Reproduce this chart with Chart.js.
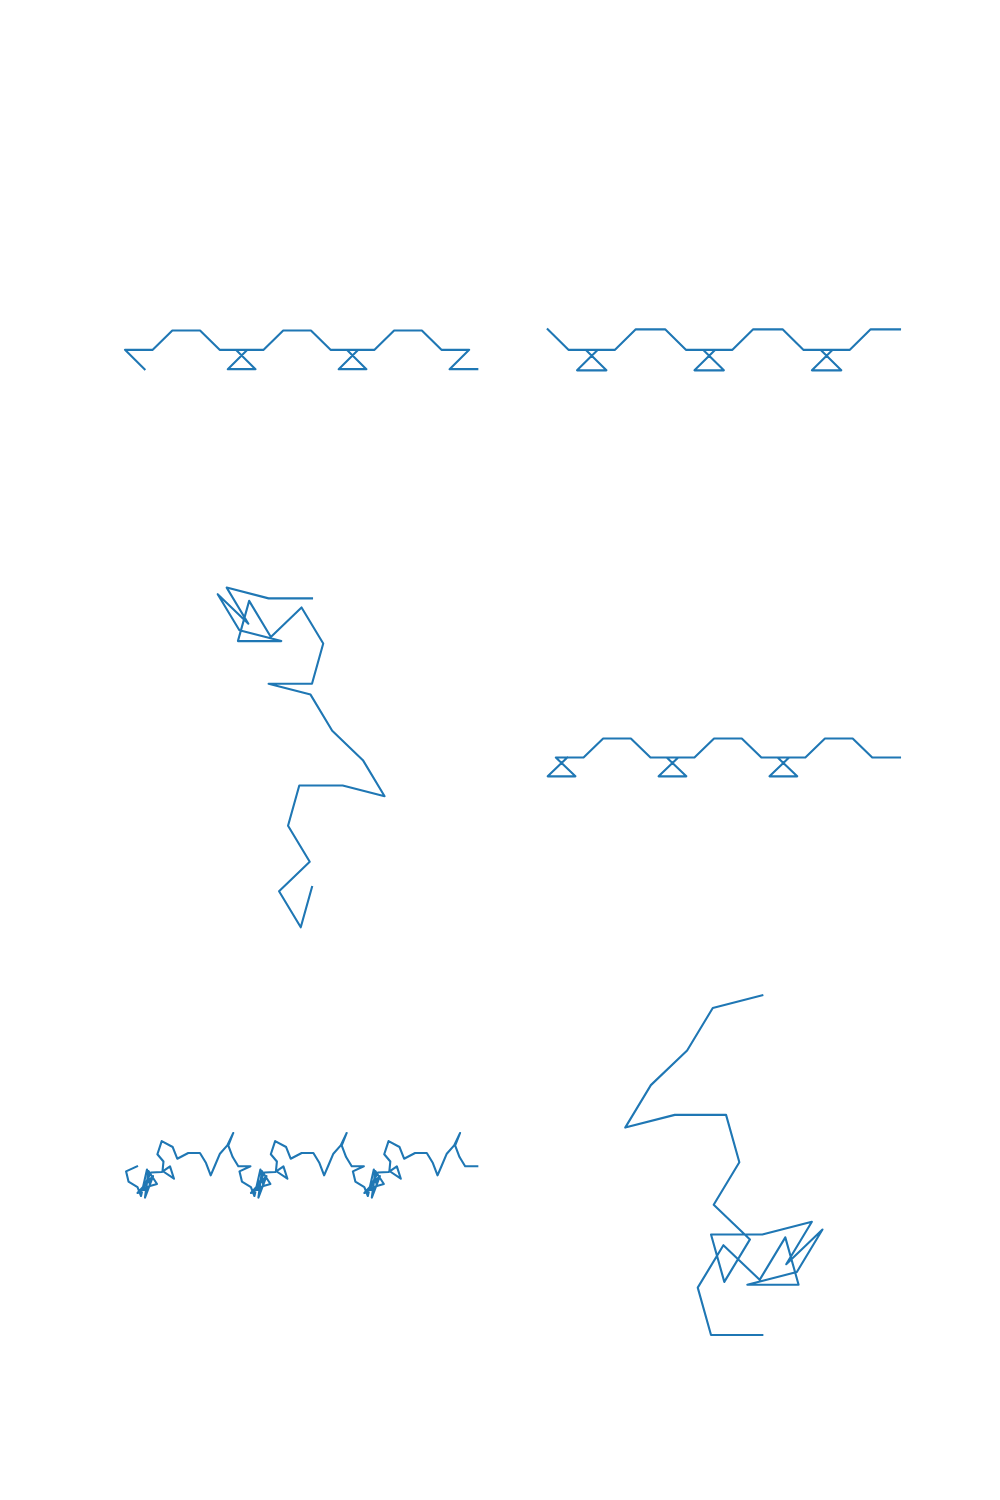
<!DOCTYPE html>
<html><head><meta charset="utf-8">
<script src="https://cdn.jsdelivr.net/npm/chart.js@4"></script>
<style>
html,body{margin:0;padding:0;background:#fff}
body{width:1000px;height:1500px;position:relative;overflow:hidden}
canvas{position:absolute}
</style>
</head><body>
<canvas id="c1"></canvas><canvas id="c2"></canvas>
<canvas id="c3"></canvas><canvas id="c4"></canvas>
<canvas id="c5"></canvas><canvas id="c6"></canvas>
<script>
// Panel 1 (top left)
const p1x = [0, -0.707, 0.293, 1, 2, 2.707, 3.707, 3, 4, 3.293, 4.293, 5, 6, 6.707, 7.707, 7, 8, 7.293, 8.293, 9, 10, 10.707, 11.707, 11, 12];
const p1y = [0, 0.707, 0.707, 1.414, 1.414, 0.707, 0.707, 0, 0, 0.707, 0.707, 1.414, 1.414, 0.707, 0.707, 0, 0, 0.707, 0.707, 1.414, 1.414, 0.707, 0.707, 0, 0];
// Panel 2 (top right)
const p2x = [0, 0.707, 1.707, 1, 2, 1.293, 2.293, 3, 4, 4.707, 5.707, 5, 6, 5.293, 6.293, 7, 8, 8.707, 9.707, 9, 10, 9.293, 10.293, 11, 12];
const p2y = [0, -0.707, -0.707, -1.414, -1.414, -0.707, -0.707, 0, 0, -0.707, -0.707, -1.414, -1.414, -0.707, -0.707, 0, 0, -0.707, -0.707, -1.414, -1.414, -0.707, -0.707, 0, 0];
// Panel 3 (middle left)
const p3x = [0, -1, -1.966, -1.466, -2.173, -1.673, -0.707, -1.707, -1.448, -0.948, -0.241, 0.259, 0, -1, -0.034, 0.466, 1.173, 1.673, 0.707, -0.293, -0.552, -0.052, -0.759, -0.259, 0];
const p3y = [0, 0, 0.259, -0.607, 0.1, -0.766, -1.025, -1.025, -0.059, -0.925, -0.218, -1.084, -2.05, -2.05, -2.309, -3.175, -3.882, -4.748, -4.489, -4.489, -5.455, -6.321, -7.028, -7.894, -6.928];
// Panel 4 (middle right)
const p4x = [0, -0.707, 0.293, -0.414, 0.586, 1.293, 2.293, 3, 4, 3.293, 4.293, 3.586, 4.586, 5.293, 6.293, 7, 8, 7.293, 8.293, 7.586, 8.586, 9.293, 10.293, 11, 12];
const p4y = [0, -0.707, -0.707, 0, 0, 0.707, 0.707, 0, 0, -0.707, -0.707, 0, 0, 0.707, 0.707, 0, 0, -0.707, -0.707, 0, 0, 0.707, 0.707, 0, 0];
// Panel 5 (bottom left)
const p5x = [
  0, -0.94, -0.73, 0.04, 0.34, 0.85, 1.11, 0.04, 1.37, 0.68, 0.98, 1.71, 0.51, 1.20, 2.11, 2.82, 3.16, 2.18, 2.26, 1.74, 2.11, 3.05, 3.44, 4.38, 5.38, 5.90, 6.30, 6.67, 7.09, 7.72, 8.23, 7.80, 8.18, 8.66,
  9.70, 8.76, 8.97, 9.74, 10.04, 10.55, 10.81, 9.74, 11.07, 10.38, 10.68, 11.41, 10.21, 10.90, 11.81, 12.52, 12.86, 11.88, 11.96, 11.44, 11.81, 12.75, 13.14, 14.08, 15.08, 15.60, 16.00, 16.37, 16.79, 17.42, 17.93, 17.50, 17.88, 18.36,
  19.40, 18.46, 18.67, 19.44, 19.74, 20.25, 20.51, 19.44, 20.77, 20.08, 20.38, 21.11, 19.91, 20.60, 21.51, 22.22, 22.56, 21.58, 21.66, 21.14, 21.51, 22.45, 22.84, 23.78, 24.78, 25.30, 25.70, 26.07, 26.49, 27.12, 27.63, 27.20, 27.58, 28.06,
  29.10];
const p5y = [
  0, -0.43, -1.30, -1.77, -2.54, -0.27, -1.68, -2.28, -0.83, -2.67, -0.40, -1.51, -1.85, -0.53, -0.49, 0, -1.06, -0.40, 0.41, 1.03, 2.16, 1.65, 0.65, 1.14, 1.14, 0.28, -0.77, 0.09, 1.08, 1.79, 2.85, 1.78, 0.79, 0,
  0, -0.43, -1.30, -1.77, -2.54, -0.27, -1.68, -2.28, -0.83, -2.67, -0.40, -1.51, -1.85, -0.53, -0.49, 0, -1.06, -0.40, 0.41, 1.03, 2.16, 1.65, 0.65, 1.14, 1.14, 0.28, -0.77, 0.09, 1.08, 1.79, 2.85, 1.78, 0.79, 0,
  0, -0.43, -1.30, -1.77, -2.54, -0.27, -1.68, -2.28, -0.83, -2.67, -0.40, -1.51, -1.85, -0.53, -0.49, 0, -1.06, -0.40, 0.41, 1.03, 2.16, 1.65, 0.65, 1.14, 1.14, 0.28, -0.77, 0.09, 1.08, 1.79, 2.85, 1.78, 0.79, 0,
  0];
// Panel 6 (bottom right)
const p6x = [0, -0.966, -1.466, -2.173, -2.673, -1.707, -0.707, -0.448, -0.948, -0.241, -0.741, -1, 0, 0.966, 0.466, 1.173, 0.673, -0.293, 0.707, 0.448, -0.052, -0.759, -1.259, -1, 0];
const p6y = [0, -0.259, -1.125, -1.832, -2.698, -2.439, -2.439, -3.405, -4.271, -4.978, -5.844, -4.878, -4.878, -4.619, -5.485, -4.778, -5.644, -5.903, -5.903, -4.937, -5.803, -5.096, -5.962, -6.928, -6.928];

const BW = 352.3, BH = 339.7, PAD = 12;
const panels = [
  {id:'c1', x:p1x, y:p1y, box:[125, 180],     xr:[-0.707, 12],    yr:[-5.515, 6.929]},
  {id:'c2', x:p2x, y:p2y, box:[547.7, 180],   xr:[0, 12],         yr:[-6.564, 5.150]},
  {id:'c3', x:p3x, y:p3y, box:[125, 587.6],   xr:[-4.309, 3.809], yr:[-7.894, 0.259]},
  {id:'c4', x:p4x, y:p4y, box:[547.7, 587.6], xr:[-0.707, 12],    yr:[-6.361, 6.361]},
  {id:'c5', x:p5x, y:p5y, box:[125, 995.3],   xr:[-1.03, 29.1],   yr:[-14.42, 14.62]},
  {id:'c6', x:p6x, y:p6y, box:[547.7, 995.3], xr:[-4.184, 2.684], yr:[-6.928, 0]}
];

panels.forEach(p => {
  const cv = document.getElementById(p.id);
  const left = Math.floor(p.box[0]) - PAD, top = Math.floor(p.box[1]) - PAD;
  const w = Math.ceil(p.box[0] + BW) + PAD - left, h = Math.ceil(p.box[1] + BH) + PAD - top;
  cv.style.left = left + 'px'; cv.style.top = top + 'px';
  cv.width = w; cv.height = h; cv.style.width = w + 'px'; cv.style.height = h + 'px';
  new Chart(cv, {
    type: 'scatter',
    data: { datasets: [{
      data: p.x.map((v, i) => ({x: v, y: p.y[i]})),
      showLine: true, borderColor: '#1f77b4', backgroundColor: '#1f77b4',
      borderWidth: 2.1, pointRadius: 0, pointHoverRadius: 0, tension: 0,
      borderJoinStyle: 'round', borderCapStyle: 'square', clip: false, fill: false
    }]},
    options: {
      responsive: false, animation: false, events: [], devicePixelRatio: 1,
      layout: { padding: {
        left: p.box[0] - left, top: p.box[1] - top,
        right: left + w - (p.box[0] + BW), bottom: top + h - (p.box[1] + BH)
      }},
      scales: {
        x: { type: 'linear', display: false, min: p.xr[0], max: p.xr[1] },
        y: { type: 'linear', display: false, min: p.yr[0], max: p.yr[1] }
      },
      plugins: { legend: {display: false}, tooltip: {enabled: false} }
    }
  });
});
</script>
</body></html>
